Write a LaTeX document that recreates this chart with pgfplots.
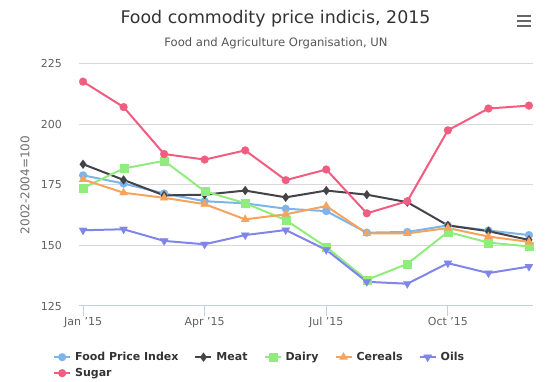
\documentclass[border=0pt]{standalone}
\usepackage{pgfplots}
\pgfplotsset{compat=1.18}
\usepackage{fontspec}
\setmainfont{DejaVu Sans}
\usetikzlibrary{plotmarks}
\definecolor{cFPI}{HTML}{7CB5EC}
\definecolor{cMeat}{HTML}{434348}
\definecolor{cDairy}{HTML}{90ED7D}
\definecolor{cCer}{HTML}{F7A35C}
\definecolor{cOils}{HTML}{8085E9}
\definecolor{cSugar}{HTML}{F15C80}
\definecolor{cTitle}{HTML}{333333}
\definecolor{cSub}{HTML}{555555}
\definecolor{cLab}{HTML}{606060}
\definecolor{cAxT}{HTML}{707070}
\definecolor{cGrid}{HTML}{D8D8D8}
\definecolor{cAxis}{HTML}{C0D0E0}
\definecolor{cIcon}{HTML}{666666}
\begin{document}
\begin{tikzpicture}
\useasboundingbox (0pt,0pt) rectangle (549pt,382pt);
\node[text=cTitle,font=\fontsize{17.4}{20}\selectfont] at (275.5pt,363pt) {Food commodity price indicis, 2015};
\node[text=cSub,font=\fontsize{11.6}{14}\selectfont] at (276pt,339pt) {Food and Agriculture Organisation, UN};
\draw[cIcon,line width=2.5pt] (517pt,366pt) -- (531pt,366pt) (517pt,361pt) -- (531pt,361pt) (517pt,356pt) -- (531pt,356pt);
\begin{axis}[
  at={(79pt,76pt)}, anchor=south west,
  scale only axis, width=454pt, height=242pt,
  xmin=-0.1, xmax=11.1, ymin=125, ymax=225,
  axis x line*=bottom, axis y line*=left,
  x axis line style={draw=cAxis,line width=1pt},
  y axis line style={draw=none},
  xtick={0,3,6,9},
  xticklabels={Jan '15,Apr '15,Jul '15,Oct '15},
  ytick={125,150,175,200,225},
  /pgf/number format/assume math mode=true,
  ymajorgrids, grid style={cGrid,line width=1pt},
  tick align=outside, major tick length=10pt,
  xtick style={draw=cAxis,line width=1pt},
  ytick style={draw=none},
  tick label style={text=cLab,font=\fontsize{11}{13}\selectfont},
  yticklabel style={anchor=east,inner sep=0pt,xshift=-7pt},
  xticklabel style={anchor=north,inner sep=0pt,yshift=-1pt},
  ylabel={2002-2004=100},
  ylabel style={at={(axis description cs:-0.119,0.5)},anchor=center,text=cAxT,font=\fontsize{12}{14}\selectfont},
  legend columns=5,
  legend style={at={(axis description cs:-0.0573,-0.1818)},anchor=north west,draw=none,fill=none,inner sep=0pt,
    font=\fontsize{11}{14}\selectfont\bfseries, text=cTitle,
    nodes={text height=9pt,text depth=3pt,inner sep=1pt,anchor=west},
    row sep=2pt,
    /tikz/every odd column/.append style={column sep=3pt},
    /tikz/every even column/.append style={column sep=15pt}},
  legend image code/.code={\draw[mark repeat=2,mark phase=2] plot coordinates {(0pt,0pt) (8pt,0pt) (16pt,0pt)};},
  every axis plot/.append style={line width=2pt},
  clip=false,
]
\addplot[cFPI,mark=*,mark size=4pt,mark options={line width=0.1pt}] coordinates {(0,179) (1,175.6) (2,171.5) (3,168.3) (4,167.4) (5,165.2) (6,164.2) (7,155.3) (8,155.6) (9,158.3) (10,156.2) (11,154.3)};
\addlegendentry{Food Price Index}
\addplot[cMeat,mark=diamond*,mark size=4.5pt,mark options={line width=0.1pt}] coordinates {(0,183.6) (1,177.1) (2,170.7) (3,171) (4,172.7) (5,169.9) (6,172.7) (7,171) (8,167.9) (9,158.3) (10,155.9) (11,152.3)};
\addlegendentry{Meat}
\addplot[cDairy,mark=square*,mark size=4pt,mark options={line width=0.1pt}] coordinates {(0,173.8) (1,181.8) (2,185) (3,172.4) (4,167.5) (5,160.5) (6,149.4) (7,135.8) (8,142.4) (9,155.6) (10,151.2) (11,149.6)};
\addlegendentry{Dairy}
\addplot[cCer,mark=triangle*,mark size=4.8pt,mark options={line width=0.1pt}] coordinates {(0,177.3) (1,171.8) (2,169.7) (3,167.1) (4,160.8) (5,162.9) (6,166.3) (7,155) (8,155) (9,157.2) (10,153.7) (11,151.5)};
\addlegendentry{Cereals}
\addplot[cOils,mark=triangle*,mark size=4.8pt,mark options={rotate=180,line width=0.1pt}] coordinates {(0,156.3) (1,156.7) (2,151.9) (3,150.5) (4,154.3) (5,156.4) (6,148.2) (7,135) (8,134.2) (9,142.7) (10,138.6) (11,141.3)};
\addlegendentry{Oils}
\addplot[cSugar,mark=*,mark size=4pt,mark options={line width=0.1pt}] coordinates {(0,217.7) (1,207.2) (2,187.8) (3,185.5) (4,189.3) (5,177) (6,181.4) (7,163.3) (8,168.3) (9,197.6) (10,206.6) (11,207.8)};
\addlegendentry{Sugar}
\end{axis}
\end{tikzpicture}
\end{document}
